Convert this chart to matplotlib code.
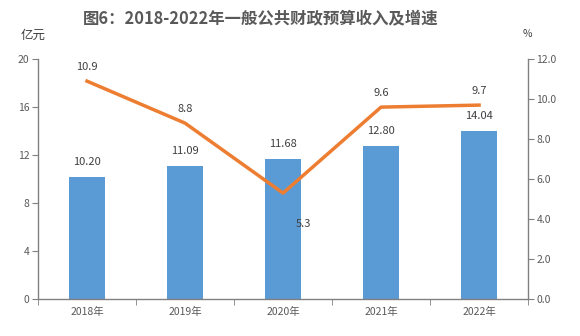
import matplotlib
matplotlib.use('Agg')
import matplotlib.pyplot as plt
import numpy as np

plt.rcParams['font.family'] = ['Noto Sans CJK SC', 'DejaVu Sans']

years = ["2018年", "2019年", "2020年", "2021年", "2022年"]
revenue = [10.20, 11.09, 11.68, 12.80, 14.04]
growth = [10.9, 8.8, 5.3, 9.6, 9.7]
revenue_labels = ["10.20", "11.09", "11.68", "12.80", "14.04"]
growth_labels = ["10.9", "8.8", "5.3", "9.6", "9.7"]

bar_color = "#5B9BD5"
line_color = "#ED7D31"
axis_color = "#808080"
text_color = "#595959"

fig = plt.figure(figsize=(5.8, 3.36), dpi=100)
ax = fig.add_axes([0.0655, 0.110, 0.845, 0.714])
ax2 = ax.twinx()

x = np.arange(len(years))
ax.bar(x, revenue, width=0.36, color=bar_color, zorder=2)
ax.set_xlim(-0.5, len(years) - 0.5)
ax.set_ylim(0, 20)
ax.set_yticks([0, 4, 8, 12, 16, 20])
ax.set_xticks(x)
ax.set_xticklabels(years)
ax.set_xticks(np.arange(-0.5, len(years), 1), minor=True)
ax.tick_params(axis='x', which='major', length=0, pad=6, labelsize=7.5, labelcolor=text_color)
ax.tick_params(axis='x', which='minor', length=4, color=axis_color, direction='out')
ax.tick_params(axis='y', length=4, color=axis_color, labelsize=7.5, labelcolor=text_color, pad=2)

# bar value labels
for i, v in enumerate(revenue):
    ax.annotate(revenue_labels[i], (x[i], v), xytext=(0, 7), textcoords='offset points',
                ha='center', va='bottom', fontsize=8, color='#404040')

ax2.plot(x, growth, color=line_color, linewidth=2.5, zorder=3)
ax2.set_ylim(0, 12)
ax2.set_yticks(np.arange(0, 12.1, 2))
ax2.set_yticklabels(["%.1f" % t for t in np.arange(0, 12.1, 2)])
ax2.tick_params(axis='y', length=4, color=axis_color, labelsize=7.5, labelcolor=text_color, pad=2)

# growth labels, 2020 sits below right of the point
for i, v in enumerate(growth):
    if i == 2:
        ax2.annotate(growth_labels[i], (x[i], v), xytext=(15, -22), textcoords='offset points',
                     ha='center', va='center', fontsize=8, color='#404040')
    else:
        ax2.annotate(growth_labels[i], (x[i], v), xytext=(0, 10), textcoords='offset points',
                     ha='center', va='center', fontsize=8, color='#404040')

for a in (ax, ax2):
    a.spines['top'].set_visible(False)
    for s in ('left', 'right', 'bottom'):
        a.spines[s].set_color(axis_color)
        a.spines[s].set_linewidth(1.0)
ax.spines['right'].set_visible(False)
ax2.spines['left'].set_visible(False)
ax2.spines['bottom'].set_visible(False)

fig.text(0.45, 0.945, "图6：2018-2022年一般公共财政预算收入及增速", ha='center', va='center',
         fontsize=11.8, fontweight='bold', color='#595959')
fig.text(0.057, 0.895, "亿元", ha='center', va='center', fontsize=9, color='#404040')
fig.text(0.910, 0.900, "%", ha='center', va='center', fontsize=7.5, color='#404040')

plt.savefig("out.png", dpi=100)
